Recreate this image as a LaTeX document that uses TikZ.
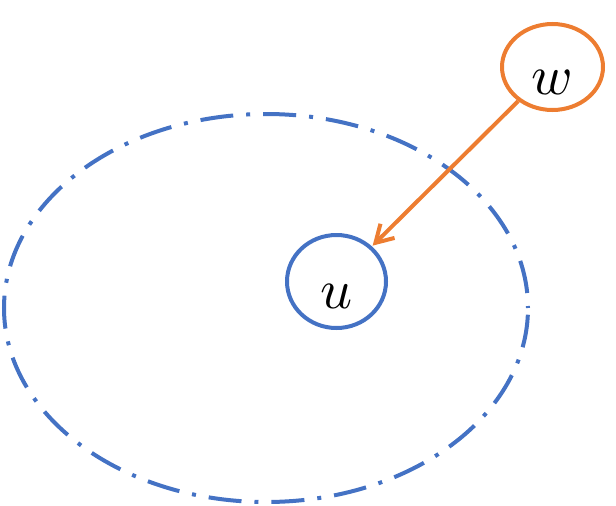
\documentclass[tikz,border=0pt]{standalone}
\usepackage{unicode-math}
\setmathfont{Latin Modern Math}
\usetikzlibrary{shapes.geometric,arrows.meta}
\definecolor{myblue}{RGB}{68,114,196}
\definecolor{myorange}{RGB}{237,125,49}
\tikzset{
  bigset/.style={draw=myblue, line width=4pt, dash pattern=on 4pt off 13pt on 33pt off 13pt, dash phase=2pt},
  vertex/.style={ellipse, draw=#1, line width=4pt, inner sep=0pt},
  lbl/.style={inner sep=0pt, font=\fontsize{56}{60}\selectfont},
  edge/.style={draw=myorange, line width=4pt, -{Straight Barb[length=17pt,width=20pt,line width=4pt]}, shorten >=1pt}
}
\begin{document}
\begin{tikzpicture}[x=1pt,y=1pt]
\useasboundingbox (0,0) rectangle (616,-506);
\draw[bigset] (266,-308) ellipse [x radius=262, y radius=194];
\node[vertex=myblue, minimum width=99pt, minimum height=93pt] (u) at (336.5,-281.5) {};
\node[vertex=myorange, minimum width=101pt, minimum height=86pt] (w) at (552.5,-67) {};
\node[lbl] (ul) at (337,-296) {$u$};
\node[lbl] (wl) at (552,-82) {$w$};
\draw[edge] (w) -- (u);
\end{tikzpicture}
\end{document}
